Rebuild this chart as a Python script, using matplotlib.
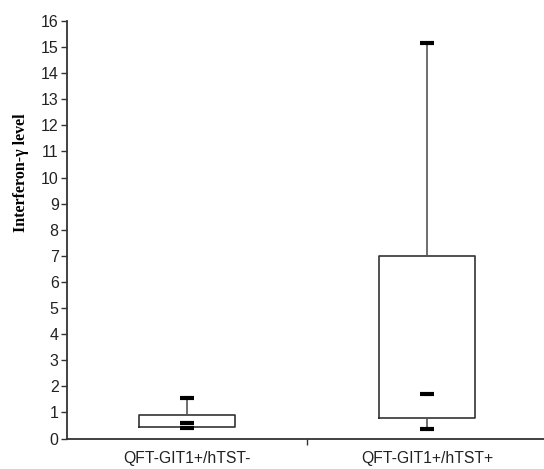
import matplotlib
matplotlib.use("Agg")
import matplotlib.pyplot as plt

groups = ["QFT-GIT1+/hTST-", "QFT-GIT1+/hTST+"]
mins = [0.39, 0.36]
q1s = [0.43, 0.77]
medians = [0.61, 1.71]
q3s = [0.91, 7.0]
maxs = [1.56, 15.15]

stats = [dict(label=g, whislo=lo, q1=a, med=m, q3=b, whishi=hi)
         for g, lo, a, m, b, hi in zip(groups, mins, q1s, medians, q3s, maxs)]

fig = plt.figure(figsize=(5.44, 4.69), dpi=100)
W, H = 544, 469
ax = fig.add_axes([67 / W, 30.5 / H, 480 / W, 417.5 / H])

pos = [1, 2]
ax.bxp(stats, positions=pos, widths=0.4, showfliers=False, capwidths=0.058,
       boxprops=dict(color="#333333", linewidth=1.2),
       whiskerprops=dict(color="#555555", linewidth=1.2),
       capprops=dict(color="black", linewidth=3, solid_capstyle="butt"),
       medianprops=dict(linewidth=0))
ax.hlines(medians, [p - 0.029 for p in pos], [p + 0.029 for p in pos],
          colors="black", linewidth=3)

ax.set_xlim(0.5, 2.5)
ax.set_ylim(0, 16)
ax.set_yticks(range(0, 17))
ax.set_xticks([1.5])
ax.set_xticklabels([""])
for p, g in zip(pos, groups):
    ax.text(p, -0.03, g, transform=ax.get_xaxis_transform(), ha="center",
            va="top", fontsize=11.3, family="Liberation Sans", color="#222222")

ax.spines["top"].set_visible(False)
ax.spines["right"].set_visible(False)
for s in ("left", "bottom"):
    ax.spines[s].set_color("#333333")
    ax.spines[s].set_linewidth(1.3)
ax.tick_params(axis="y", direction="out", length=4, width=1, color="#333333",
               labelsize=11.5, labelcolor="#222222", pad=2)
ax.tick_params(axis="x", direction="out", length=4, width=1, color="#333333")
for lab in ax.get_yticklabels():
    lab.set_family("Liberation Sans")

ax.set_ylabel("Interferon-\u03b3 level", fontsize=11.5, fontweight="bold",
              family="Liberation Serif")
ax.yaxis.set_label_coords(-0.079, 0.636)

fig.savefig("out.png", dpi=100)
